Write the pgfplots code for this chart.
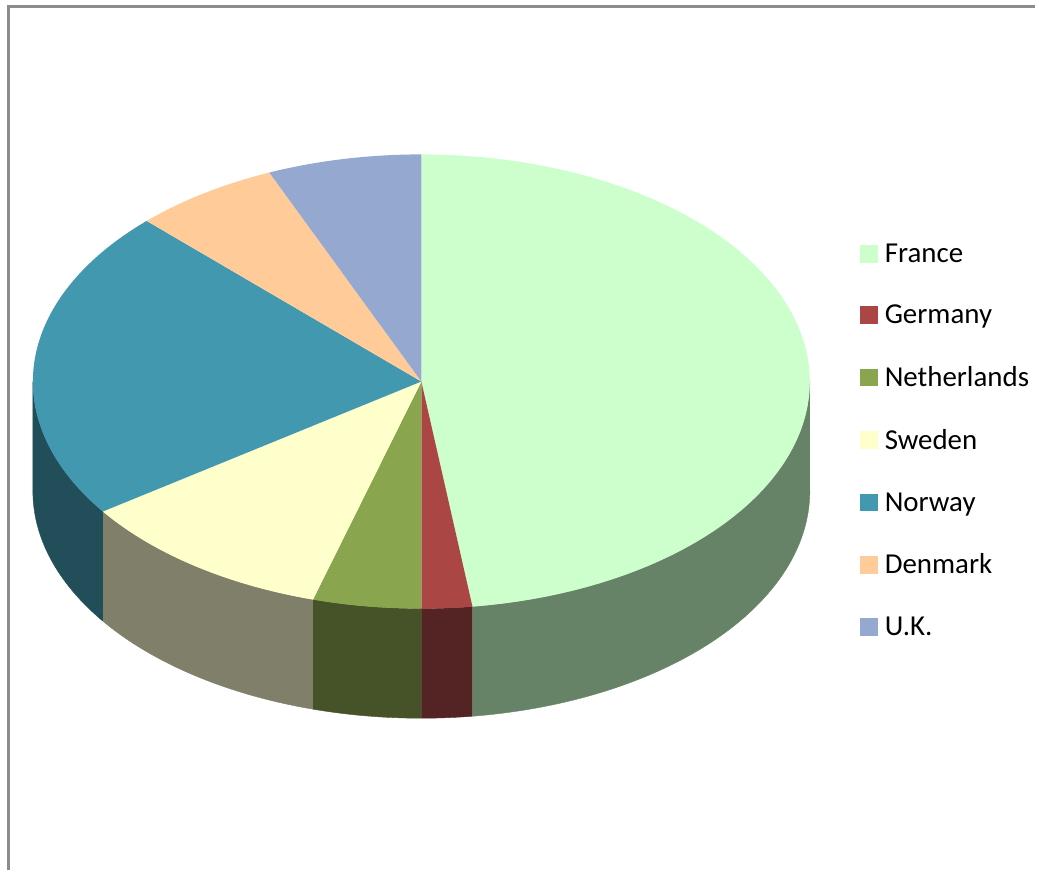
\documentclass[border=0pt]{standalone}
\usepackage{pgfplots}
\pgfplotsset{compat=1.18}
\usepackage{fontspec}
\setmainfont{Carlito}
\definecolor{cFr}{HTML}{CCFFCC}\definecolor{sFr}{HTML}{678367}
\definecolor{cDe}{HTML}{AA4643}\definecolor{sDe}{HTML}{542323}
\definecolor{cNl}{HTML}{89A54E}\definecolor{sNl}{HTML}{465228}
\definecolor{cSe}{HTML}{FFFFCC}\definecolor{sSe}{HTML}{80806A}
\definecolor{cNo}{HTML}{4198AF}\definecolor{sNo}{HTML}{224E5A}
\definecolor{cDk}{HTML}{FFCC99}
\definecolor{cUk}{HTML}{94A8D0}
% slice shares in percent: France 47.9, Germany 2.1, Netherlands 4.5,
% Sweden 10.8, Norway 22.2, Denmark 6.1, U.K. 6.4 (cumulative bounds below)
\newcommand\topslice[3]{%
  \addplot[fill=#3, draw=none, domain=3.6*#1:3.6*#2, samples=80]
    ({423+390*sin(x)},{383-228*cos(x)}) -- (axis cs:423,383) -- cycle;}
\newcommand\wallslice[3]{%
  \addplot[fill=#3, draw=#3, line width=0.4pt, forget plot, domain=0:2.02, samples=203]
    ({423+390*sin(#1+(#2-#1)*min(1,min(x,2.02-x)))},
     {383-228*cos(#1+(#2-#1)*min(1,min(x,2.02-x)))+110*max(0,min(1,(x-1)*50))});}
\begin{document}
\begin{tikzpicture}
\begin{axis}[width=1039pt, height=873pt, scale only axis,
  xmin=0, xmax=1039, ymin=0, ymax=873, y dir=reverse,
  hide axis, clip=false,
  legend cell align=left,
  legend image code/.code={\fill[#1] (0pt,-9pt) rectangle (18pt,9pt);},
  legend style={draw=none, fill=none, at={(axis cs:860,240.5)}, anchor=north west,
    font=\fontsize{29}{31}\selectfont, row sep=37.5pt,
    nodes={inner xsep=7pt}},
]
\wallslice{90}{172.44}{sFr}
\wallslice{172.44}{180}{sDe}
\wallslice{180}{196.2}{sNl}
\wallslice{196.2}{235.08}{sSe}
\wallslice{235.08}{270}{sNo}
\topslice{0}{47.9}{cFr}
\addlegendentry{France}
\topslice{47.9}{50}{cDe}
\addlegendentry{Germany}
\topslice{50}{54.5}{cNl}
\addlegendentry{Netherlands}
\topslice{54.5}{65.3}{cSe}
\addlegendentry{Sweden}
\topslice{65.3}{87.5}{cNo}
\addlegendentry{Norway}
\topslice{87.5}{93.6}{cDk}
\addlegendentry{Denmark}
\topslice{93.6}{100}{cUk}
\addlegendentry{U.K.}
\draw[color=gray!90, line width=3pt] (axis cs:1039,7) -- (axis cs:9,7) -- (axis cs:9,873);
\path (axis cs:0,0) (axis cs:1039,873);
\end{axis}
\end{tikzpicture}
\end{document}
